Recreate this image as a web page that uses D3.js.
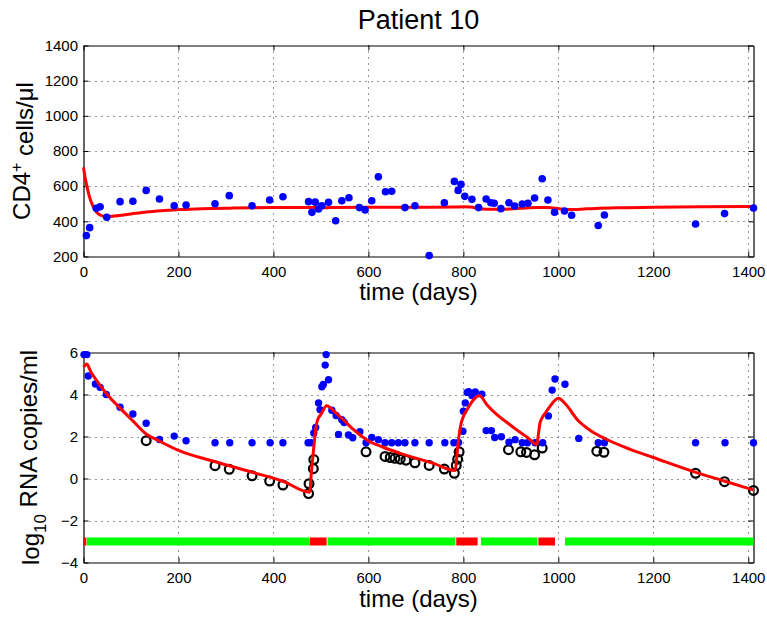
<!DOCTYPE html>
<html>
<head>
<meta charset="utf-8">
<script src="https://cdn.jsdelivr.net/npm/d3@7"></script>
<style>
  body { margin: 0; background: #fff; }
  svg { display: block; font-family: "Liberation Sans", Arial, Helvetica, sans-serif; }
</style>
</head>
<body>
<svg id="chart" width="767" height="618"></svg>
<script>
// ---- Axis ticks ----
const xTicks = [0, 200, 400, 600, 800, 1000, 1200, 1400];
const cd4Ticks = [200, 400, 600, 800, 1000, 1200, 1400];
const rnaTicks = [-4, -2, 0, 2, 4, 6];

// ---- CD4+ T cell counts (day, cells/ul) ----
const cd4Obs = [
  [6,319],[13,364],[27,474],[35,483],[49,423],[77,512],[104,514],[132,576],[160,527],
  [191,489],[216,493],[277,500],[307,546],[355,489],[392,521],[420,540],[474,512],
  [481,451],[488,509],[495,470],[502,489],[516,508],[531,403],[544,517],[559,534],
  [581,478],[593,465],[607,517],[621,653],[636,568],[649,571],[677,478],[698,489],
  [728,205],[760,506],[781,627],[789,576],[795,610],[803,542],[818,525],[832,478],
  [848,527],[858,506],[865,503],[879,472],[896,506],[908,487],[924,499],[936,503],
  [950,533],[966,642],[978,521],[992,452],[1013,459],[1028,435],[1084,376],[1097,436],
  [1289,385],[1350,444],[1411,476]
];

// model fit for CD4+ counts
const cd4Model = [
  [0,707],[4,640],[8,590],[12,545],[17,505],[22,475],[28,450],[35,436],[42,429],[50,427],
  [65,430],[100,442],[133,453],[170,461],[204,467],[250,472],[309,475],[400,478],[477,479],
  [500,477],[520,478],[600,480],[700,480],[780,481],[800,483],[815,481],[835,472],[860,469],
  [880,469],[920,474],[955,478],[975,478],[990,476],[1005,470],[1025,467],[1060,471],
  [1120,477],[1200,480],[1300,483],[1411,485]
];

// ---- Viral load, log10 copies/ml ----
const rnaObs = [
  [1,5.9],[7,5.9],[10,4.88],[25,4.5],[35,4.34],[48,4.0],[77,3.39],[104,3.07],[132,2.63],
  [160,1.86],[191,2.02],[216,1.8],[277,1.7],[308,1.7],[355,1.7],[393,1.7],[420,1.7],
  [473,1.7],[479,1.7],[485,2.17],[489,2.43],[495,3.6],[498,3.28],[502,4.37],[505,4.48],
  [509,5.4],[511,5.9],[516,4.7],[523,3.25],[532,3.0],[537,2.1],[544,2.8],[549,2.67],
  [558,2.07],[567,1.94],[582,2.23],[595,1.7],[607,1.95],[621,1.85],[635,1.7],[649,1.7],
  [663,1.7],[677,1.7],[698,1.7],[728,1.7],[761,1.7],[780,1.7],[790,1.72],[799,2.25],
  [800,3.2],[804,3.6],[808,4.1],[811,4.13],[818,3.95],[825,4.12],[839,4.02],[848,2.28],
  [859,2.28],[866,1.95],[880,1.99],[896,1.73],[909,1.85],[924,1.7],[935,1.7],[951,1.7],
  [967,1.7],[979,2.98],[987,4.21],[993,4.74],[1014,4.49],[1043,1.91],[1084,1.7],
  [1097,1.7],[1289,1.7],[1351,1.7],[1411,1.7]
];

// viral load below detection: model-estimated values
const rnaCensored = [
  [132,1.8],[277,0.61],[307,0.44],[355,0.13],[392,-0.12],[420,-0.31],[474,-0.72],
  [475,-0.25],[484,0.47],[485,0.9],[595,1.27],[635,1.05],[646,1.0],[656,0.96],[667,0.92],
  [679,0.87],[698,0.75],[728,0.62],[760,0.45],[781,0.25],[785,0.62],[788,0.92],[791,1.27],
  [895,1.37],[921,1.27],[933,1.24],[950,1.13],[966,1.45],[1081,1.3],[1096,1.25],
  [1289,0.25],[1350,-0.15],[1411,-0.57]
];

// model fit for viral load
const rnaModel = [
  [0,5.3],[7,5.45],[15,5.1],[25,4.75],[48,4.05],[77,3.35],[105,2.72],[132,2.12],[160,1.78],
  [204,1.3],[277,0.8],[355,0.3],[420,-0.13],[476,-0.65],[480,0.3],[485,1.5],[490,2.5],
  [494,2.85],[500,3.05],[512,3.47],[530,3.15],[547,2.8],[570,2.3],[596,1.85],[630,1.5],
  [667,1.2],[737,0.72],[783,0.38],[786,1.0],[790,1.9],[795,2.6],[800,2.95],[807,3.25],
  [834,3.94],[850,3.5],[870,3.05],[890,2.7],[910,2.35],[935,1.95],[955,1.62],[958,2.1],
  [961,2.6],[966,2.9],[972,3.1],[982,3.42],[1000,3.82],[1015,3.55],[1040,2.8],[1070,2.25],
  [1100,1.88],[1150,1.4],[1200,1.0],[1291,0.28],[1351,-0.13],[1411,-0.55]
];

// treatment periods: [start, end, state]
const treatment = [
  [0,6,"off"],[7,475,"on"],[476,512,"off"],[514,783,"on"],
  [785,830,"off"],[837,956,"on"],[958,993,"off"],[1014,1411,"on"]
];
const treatmentLevel = -3;

// ---- Layout ----
const svg = d3.select("#chart");
const left = 83.5, right = 753.5;
const topPanel = { top: 45.5, bottom: 256.5 };
const botPanel = { top: 352.5, bottom: 562.5 };

const x = d3.scaleLinear().domain([0, 1411]).range([left, right]);
const yTop = d3.scaleLinear().domain([200, 1400]).range([topPanel.bottom, topPanel.top]);
const yBot = d3.scaleLinear().domain([-4, 6]).range([botPanel.bottom, botPanel.top]);

function drawFrame(y, yTicks, p) {
  const g = svg.append("g");
  // dotted grid
  g.append("g").selectAll("line").data(xTicks.filter(d => d > 0 && d < 1411)).join("line")
    .attr("x1", d => Math.round(x(d)) + 0.5).attr("x2", d => Math.round(x(d)) + 0.5)
    .attr("y1", p.top).attr("y2", p.bottom)
    .attr("stroke", "#333").attr("stroke-width", 1).attr("stroke-dasharray", "1,5");
  g.append("g").selectAll("line").data(yTicks.slice(1, -1)).join("line")
    .attr("x1", left).attr("x2", right)
    .attr("y1", d => Math.round(y(d)) + 0.5).attr("y2", d => Math.round(y(d)) + 0.5)
    .attr("stroke", "#333").attr("stroke-width", 1).attr("stroke-dasharray", "1,5");

  const styleAxis = sel => {
    sel.attr("font-family", null).attr("font-size", null);
    sel.selectAll("path.domain").attr("stroke", "#000").attr("stroke-width", 1.2);
    sel.selectAll(".tick line").attr("stroke", "#000").attr("stroke-width", 1);
    sel.selectAll(".tick text").attr("fill", "#000").style("font-size", "15px");
  };

  g.append("g").attr("transform", `translate(0,${p.bottom})`)
    .call(d3.axisBottom(x).tickValues(xTicks).tickSize(-5).tickSizeOuter(0)
      .tickPadding(9.4).tickFormat(d3.format("d")))
    .call(styleAxis);
  g.append("g").attr("transform", `translate(0,${p.top})`)
    .call(d3.axisTop(x).tickValues(xTicks).tickSize(-5).tickSizeOuter(0).tickFormat(() => ""))
    .call(styleAxis);
  g.append("g").attr("transform", `translate(${left},0)`)
    .call(d3.axisLeft(y).tickValues(yTicks).tickSize(-5).tickSizeOuter(0)
      .tickPadding(5.5).tickFormat(d3.format("d")))
    .call(styleAxis);
  g.append("g").attr("transform", `translate(${right},0)`)
    .call(d3.axisRight(y).tickValues(yTicks).tickSize(-5).tickSizeOuter(0).tickFormat(() => ""))
    .call(styleAxis);
  return g;
}

// ---- Top panel: CD4+ counts ----
drawFrame(yTop, cd4Ticks, topPanel);

svg.append("path").datum(cd4Model)
  .attr("fill", "none").attr("stroke", "#ff0000").attr("stroke-width", 3)
  .attr("stroke-linejoin", "round")
  .attr("d", d3.line().x(d => x(d[0])).y(d => yTop(d[1])).curve(d3.curveMonotoneX));

svg.append("g").selectAll("circle").data(cd4Obs).join("circle")
  .attr("cx", d => x(d[0])).attr("cy", d => yTop(d[1])).attr("r", 3.8)
  .attr("fill", "#0000ff");

// ---- Bottom panel: viral load ----
drawFrame(yBot, rnaTicks, botPanel);

svg.append("g").selectAll("rect").data(treatment).join("rect")
  .attr("x", d => x(d[0])).attr("width", d => x(d[1]) - x(d[0]))
  .attr("y", yBot(treatmentLevel) - 4).attr("height", 8)
  .attr("fill", d => d[2] === "on" ? "#00ff00" : "#ff0000");

svg.append("g").selectAll("circle").data(rnaCensored).join("circle")
  .attr("cx", d => x(d[0])).attr("cy", d => yBot(d[1])).attr("r", 4.4)
  .attr("fill", "none").attr("stroke", "#000").attr("stroke-width", 2.2);

svg.append("g").selectAll("circle").data(rnaObs).join("circle")
  .attr("cx", d => x(d[0])).attr("cy", d => yBot(d[1])).attr("r", 3.7)
  .attr("fill", "#0000ff");

svg.append("path").datum(rnaModel)
  .attr("fill", "none").attr("stroke", "#ff0000").attr("stroke-width", 3)
  .attr("stroke-linejoin", "round")
  .attr("d", d3.line().x(d => x(d[0])).y(d => yBot(d[1])).curve(d3.curveMonotoneX));

// ---- Text ----
const cx = (left + right) / 2;
svg.append("text").attr("x", cx).attr("y", 29.3).attr("text-anchor", "middle")
  .style("font-size", "27px").text("Patient 10");

svg.append("text").attr("x", cx).attr("y", topPanel.bottom + 43.5).attr("text-anchor", "middle")
  .style("font-size", "24px").text("time (days)");
svg.append("text").attr("x", cx).attr("y", botPanel.bottom + 44).attr("text-anchor", "middle")
  .style("font-size", "24px").text("time (days)");

const yl1 = svg.append("text")
  .attr("transform", `translate(29.5,${(topPanel.top + topPanel.bottom) / 2}) rotate(-90)`)
  .attr("text-anchor", "middle").style("font-size", "24px");
yl1.append("tspan").text("CD4");
yl1.append("tspan").attr("dy", "-0.45em").style("font-size", "16px").text("+");
yl1.append("tspan").attr("dy", "0.45em").text(" cells/\u03bcl");

const yl2 = svg.append("text")
  .attr("transform", `translate(39.3,${(botPanel.top + botPanel.bottom) / 2}) rotate(-90)`)
  .attr("text-anchor", "middle").style("font-size", "24px");
yl2.append("tspan").text("log");
yl2.append("tspan").attr("dy", "0.38em").style("font-size", "17px").text("10");
yl2.append("tspan").attr("dy", "-0.38em").text(" RNA copies/ml");
</script>
</body>
</html>
